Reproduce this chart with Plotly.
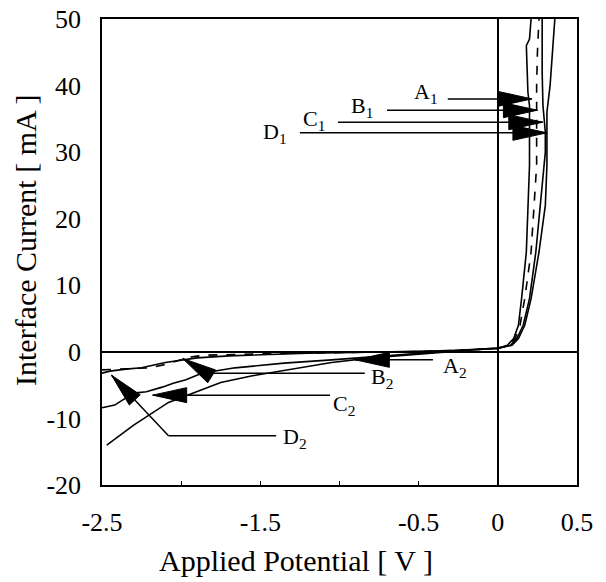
import plotly.graph_objects as go

# ---------------- data ----------------
# Curve A (solid)
a_v = [-2.5, -2.45, -2.35, -2.25, -2.1, -2.0, -1.9, -1.7, -1.5, -1.2, -0.9, -0.6, -0.3, -0.1, 0.0,
       0.06, 0.10, 0.13, 0.15, 0.18, 0.20, 0.20, 0.19, 0.18, 0.20, 0.21]
a_i = [-3.2, -2.9, -2.6, -2.4, -1.6, -1.2, -0.9, -0.6, -0.4, -0.2, -0.1, 0.0, 0.2, 0.4, 0.5,
       1.0, 2.0, 4.0, 8.0, 15.0, 28.0, 37.0, 39.0, 46.0, 47.0, 50.0]
# Curve B (dashed)
b_v = [-2.5, -2.4, -2.3, -2.2, -2.1, -2.0, -1.95, -1.85, -1.7, -1.5, -1.3, -1.0, -0.6, -0.3, 0.0,
       0.07, 0.11, 0.14, 0.17, 0.21, 0.245, 0.245, 0.25, 0.26]
b_i = [-2.7, -2.6, -2.5, -2.4, -1.9, -1.2, -0.8, -0.5, -0.4, -0.3, -0.2, -0.1, 0.0, 0.2, 0.5,
       1.0, 2.0, 4.0, 8.0, 15.0, 28.0, 40.0, 45.0, 50.0]
# Curve C (solid)
c_v = [-2.5, -2.42, -2.3, -2.22, -2.12, -2.05, -1.97, -1.87, -1.66, -1.35, -1.05, -0.7, -0.4, -0.2, 0.0,
       0.08, 0.12, 0.16, 0.20, 0.24, 0.28, 0.30, 0.30, 0.285, 0.28, 0.28]
c_i = [-8.4, -8.0, -6.2, -6.0, -5.3, -4.7, -4.2, -3.2, -2.4, -1.7, -1.2, -0.6, -0.1, 0.3, 0.5,
       1.0, 2.0, 4.0, 8.0, 15.0, 25.0, 30.0, 33.0, 37.0, 42.0, 50.0]
# Curve D (solid)
d_v = [-2.47, -2.3, -2.08, -1.9, -1.75, -1.55, -1.3, -1.05, -0.8, -0.5, -0.25, 0.0,
       0.09, 0.13, 0.17, 0.21, 0.26, 0.30, 0.31, 0.31, 0.31, 0.33, 0.35, 0.36]
d_i = [-14.0, -11.0, -7.6, -5.9, -4.6, -3.6, -2.6, -1.6, -0.9, -0.3, 0.2, 0.6,
       1.0, 2.0, 4.0, 8.0, 15.0, 22.0, 28.0, 33.0, 36.0, 40.0, 46.0, 50.0]

x_tick_vals = [-2.5, -2.0, -1.5, -1.0, -0.5, 0.0, 0.5]
x_tick_text = ["-2.5", "", "-1.5", "", "-0.5", "0", "0.5"]
y_tick_vals = [-20, -10, 0, 10, 20, 30, 40, 50]
y_tick_text = ["-20", "-10", "0", "10", "20", "30", "40", "50"]

# arrow labels and arrow polylines (tail ... tip)
arrow_labels = ["A<sub>1</sub>", "B<sub>1</sub>", "C<sub>1</sub>", "D<sub>1</sub>",
                "A<sub>2</sub>", "B<sub>2</sub>", "C<sub>2</sub>", "D<sub>2</sub>"]
label_v = [-0.455, -0.86, -1.16, -1.41, -0.27, -0.73, -0.97, -1.28]
label_i = [38.9, 36.8, 34.8, 32.9, -2.3, -3.9, -8.0, -12.9]
arrow_v = [[-0.316, 0.215], [-0.70, 0.25], [-1.01, 0.284], [-1.25, 0.31],
           [-0.41, -0.90], [-0.84, -1.84, -1.99], [-1.06, -2.18], [-1.40, -2.08, -2.44]]
arrow_i = [[38.0, 38.0], [36.3, 36.3], [34.5, 34.5], [32.9, 32.9],
           [-1.2, -1.2], [-3.2, -3.2, -1.0], [-6.5, -6.5], [-12.6, -12.6, -3.5]]

# ---------------- layout geometry ----------------
# the page body has an 8px margin, so the figure is drawn 8px right/down
OFF = 8
W, H = 606 - OFF, 582 - OFF
ML, MT = 102 - OFF, 19 - OFF
MR = W - (577 - OFF)
MB = H - (485 - OFF)
XR = [-2.5, 0.5]
YR = [-20, 50]
PW, PH = W - ML - MR, H - MT - MB
SX = PW / (XR[1] - XR[0])
SY = PH / (YR[1] - YR[0])

fig = go.Figure()

curves = [(a_v, a_i, "solid"), (b_v, b_i, "dash"), (c_v, c_i, "solid"), (d_v, d_i, "solid")]
for v, i, dash in curves:
    fig.add_trace(go.Scatter(x=v, y=i, mode="lines",
                             line=dict(color="black", width=1.6, dash=dash),
                             hoverinfo="skip"))

shapes = []
annotations = []
HEAD_L, HEAD_W = 34.0, 7.5
for lab, lv, li, av, ai in zip(arrow_labels, label_v, label_i, arrow_v, arrow_i):
    for k in range(len(av) - 1):
        shapes.append(dict(type="line", x0=av[k], y0=ai[k], x1=av[k + 1], y1=ai[k + 1],
                           xref="x", yref="y", line=dict(color="black", width=1.5)))
    # arrow head in pixel space
    tx, ty = av[-1] * SX, ai[-1] * SY
    px, py = av[-2] * SX, ai[-2] * SY
    dx, dy = tx - px, ty - py
    n = (dx * dx + dy * dy) ** 0.5
    ux, uy = dx / n, dy / n
    bx, by = tx - HEAD_L * ux, ty - HEAD_L * uy
    nx, ny = -uy, ux
    pts = [(tx, ty), (bx + HEAD_W * nx, by + HEAD_W * ny), (bx - HEAD_W * nx, by - HEAD_W * ny)]
    path = "M " + " L ".join(f"{x / SX:.5f},{y / SY:.5f}" for x, y in pts) + " Z"
    shapes.append(dict(type="path", path=path, xref="x", yref="y",
                       fillcolor="black", line=dict(color="black", width=1)))
    annotations.append(dict(x=lv, y=li, xref="x", yref="y", text=lab, showarrow=False,
                            xanchor="center", yanchor="middle",
                            font=dict(family="Liberation Serif", size=22, color="black")))

# axis titles (centres measured in window pixels)
annotations.append(dict(x=(296 - OFF - ML) / PW, y=(H - MB - (560 - OFF)) / PH,
                        xref="paper", yref="paper", xanchor="center", yanchor="middle",
                        text="Applied Potential [ V ]", showarrow=False,
                        font=dict(family="Liberation Serif", size=30, color="black")))
annotations.append(dict(x=(25 - OFF - ML) / PW, y=(H - MB - (240 - OFF)) / PH,
                        xref="paper", yref="paper", xanchor="center", yanchor="middle",
                        text="Interface Current [ mA ]", showarrow=False, textangle=-90,
                        font=dict(family="Liberation Serif", size=30, color="black")))

fig.update_layout(
    width=W, height=H,
    margin=dict(l=ML, r=MR, t=MT, b=MB, pad=0, autoexpand=False),
    plot_bgcolor="white", paper_bgcolor="white",
    showlegend=False,
    font=dict(family="Liberation Serif", color="black", size=26),
    shapes=shapes, annotations=annotations,
    xaxis=dict(range=XR, tickvals=x_tick_vals, ticktext=x_tick_text, automargin=False,
               ticks="inside", ticklen=4, tickcolor="black", tickwidth=1,
               showline=True, mirror=True, linecolor="black", linewidth=1.5,
               zeroline=True, zerolinecolor="black", zerolinewidth=1.5,
               showgrid=False, tickfont=dict(size=26), ticklabelstandoff=13,
               ticklabeloverflow="allow"),
    yaxis=dict(range=YR, tickvals=y_tick_vals, ticktext=y_tick_text, ticks="", automargin=False,
               showline=True, mirror=True, linecolor="black", linewidth=1.5,
               zeroline=True, zerolinecolor="black", zerolinewidth=1.5,
               showgrid=False, tickfont=dict(size=26), ticklabelstandoff=14,
               ticklabeloverflow="allow"),
)

fig.write_html("out.html")
